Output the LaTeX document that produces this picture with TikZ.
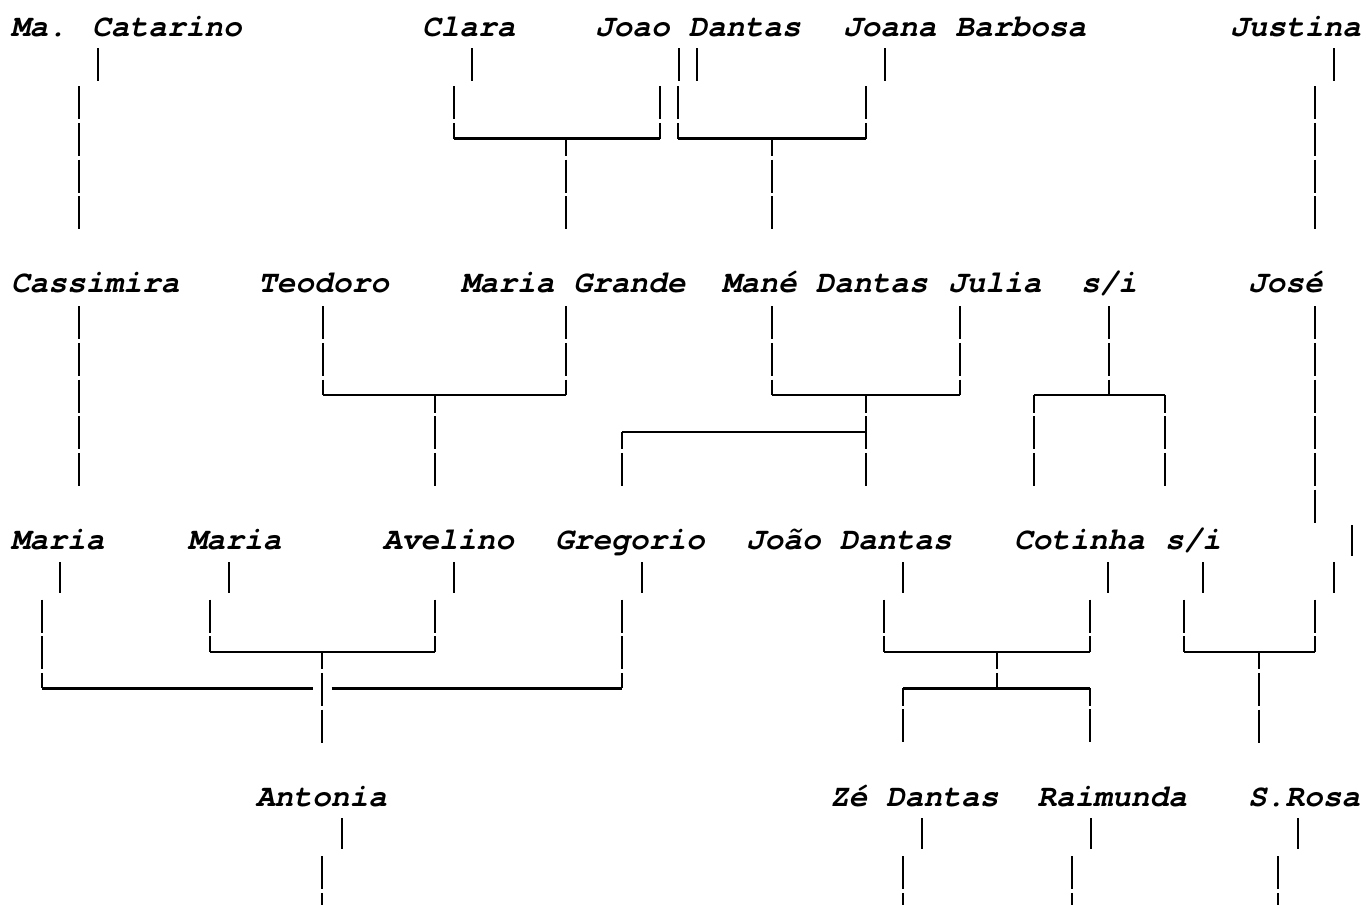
\documentclass[tikz,border=0pt]{standalone}
\usepackage{fontspec}
\setmainfont{TeX Gyre Cursor}
\begin{document}
\begin{tikzpicture}
[x=0.5pt, y=-0.5pt,
 person/.style={anchor=base west, inner sep=0pt, outer sep=0pt, font=\fontsize{15.6pt}{18pt}\selectfont\bfseries\itshape},
 stub/.style={line width=1pt},
 vbar/.style={line width=1pt, dash pattern=on 16.5pt off 1.83pt},
 vstem/.style={vbar, dash phase=7.75pt},
 hbar/.style={line width=1.2pt}]
\useasboundingbox (0,0) rectangle (1366,905);

% first generation
\node[person] (catarino) at (11,36) {Ma. Catarino};
\node[person] (clara) at (422,36) {Clara};
\node[person] (joao) at (595,36) {Joao Dantas};
\node[person] (joana) at (843,36) {Joana Barbosa};
\node[person] (justina) at (1230,36) {Justina};
\draw[stub] (98.3,48) -- (98.3,81);
\draw[stub] (471.9,48) -- (471.9,81);
\draw[stub] (678.6,48) -- (678.6,81);
\draw[stub] (696.9,48) -- (696.9,81);
\draw[stub] (885,48) -- (885,81);
\draw[stub] (1334,48) -- (1334,81);
\coordinate (clara-joao) at (566,138.5);
\coordinate (joao-joana) at (772,138.5);
\draw[vbar] (79,86.3) -- (79,229.3);
\draw[vbar] (453.6,86.3) -- (453.6,138.5);
\draw[vbar] (659.6,86.3) -- (659.6,138.5);
\draw[hbar] (453.6,138.5) -- (659.6,138.5);
\draw[vstem] (clara-joao) -- (566,229.3);
\draw[vbar] (678.4,86.3) -- (678.4,138.5);
\draw[vbar] (865.7,86.3) -- (865.7,138.5);
\draw[hbar] (678.4,138.5) -- (865.7,138.5);
\draw[vstem] (joao-joana) -- (772,229.3);
\draw[vbar] (1315.2,86.3) -- (1315.2,229.3);

% second generation
\node[person] (cassimira) at (11,292.7) {Cassimira};
\node[person] (teodoro) at (258,292.7) {Teodoro};
\node[person] (mariag) at (461,292.7) {Maria Grande};
\node[person] (mane) at (722,292.7) {Mané Dantas};
\node[person] (julia) at (948,292.7) {Julia};
\node[person] (sia) at (1081,292.7) {s/i};
\node[person] (jose) at (1248,292.7) {José};
\coordinate (teodoro-maria) at (434.9,395.1);
\coordinate (mane-julia) at (865.7,395.1);
\coordinate (sia-kids) at (1109,395.1);
\draw[vbar] (79,306.3) -- (79,485.9);
\draw[vbar] (322.5,306.3) -- (322.5,395.1);
\draw[vbar] (566,306.3) -- (566,395.1);
\draw[hbar] (322.5,395.1) -- (566,395.1);
\draw[vstem] (teodoro-maria) -- (434.9,485.9);
\draw[vbar] (772,306.3) -- (772,395.1);
\draw[vbar] (959.6,306.3) -- (959.6,395.1);
\draw[hbar] (772,395.1) -- (959.6,395.1);
\draw[vstem] (mane-julia) -- (865.7,485.9);
\draw[hbar] (622.2,431.8) -- (865.7,431.8);
\draw[vstem] (622.2,431.8) -- (622.2,485.9);
\draw[vbar] (1109,306.3) -- (sia-kids);
\draw[hbar] (1034.2,395.1) -- (1165.4,395.1);
\draw[vstem] (1034.2,395.1) -- (1034.2,485.9);
\draw[vstem] (1165.4,395.1) -- (1165.4,485.9);
\draw[vbar] (1315.2,306.3) -- (1315.2,522.6);

% third generation
\node[person] (mariaa) at (11,549.3) {Maria};
\node[person] (mariab) at (188,549.3) {Maria};
\node[person] (avelino) at (383,549.3) {Avelino};
\node[person] (gregorio) at (555,549.3) {Gregorio};
\node[person] (joaod) at (746,549.3) {João Dantas};
\node[person] (cotinha) at (1014,549.3) {Cotinha};
\node[person] (sib) at (1165,549.3) {s/i};
\draw[stub] (1352,525) -- (1352,556);
\draw[stub] (60.3,562) -- (60.3,593);
\draw[stub] (229,562) -- (229,593);
\draw[stub] (454,562) -- (454,593);
\draw[stub] (641.5,562) -- (641.5,593);
\draw[stub] (903,562) -- (903,593);
\draw[stub] (1108,562) -- (1108,593);
\draw[stub] (1202.7,562) -- (1202.7,593);
\draw[stub] (1334,562) -- (1334,593);
\coordinate (maria-avelino) at (322.3,651.7);
\coordinate (joao-cotinha) at (996.7,651.7);
\coordinate (sib-jose) at (1259.2,651.7);
\draw[vbar] (41.5,599.6) -- (41.5,688.3);
\draw[vbar] (622.2,599.6) -- (622.2,688.3);
\draw[hbar] (41.5,688.3) -- (312.9,688.3);
\draw[hbar] (331.7,688.3) -- (622.2,688.3);
\draw[vbar] (210.1,599.6) -- (210.1,651.7);
\draw[vbar] (434.9,599.6) -- (434.9,651.7);
\draw[hbar] (210.1,651.7) -- (434.9,651.7);
\draw[vstem] (maria-avelino) -- (322.3,742.6);
\draw[vbar] (884.4,599.6) -- (884.4,651.7);
\draw[vbar] (1090.4,599.6) -- (1090.4,651.7);
\draw[hbar] (884.4,651.7) -- (1090.4,651.7);
\draw[vstem] (joao-cotinha) -- (996.7,688.3);
\draw[hbar] (903.1,688.3) -- (1090.4,688.3);
\draw[vstem] (903.1,688.3) -- (903.1,742.6);
\draw[vstem] (1090.4,688.3) -- (1090.4,742.6);
\draw[vbar] (1184.3,599.6) -- (1184.3,651.7);
\draw[vbar] (1315.2,599.6) -- (1315.2,651.7);
\draw[hbar] (1184.3,651.7) -- (1315.2,651.7);
\draw[vstem] (sib-jose) -- (1259.2,742.6);

% fourth generation
\node[person] (antonia) at (256,806) {Antonia};
\node[person] (ze) at (830,806) {Zé Dantas};
\node[person] (raimunda) at (1037.3,806) {Raimunda};
\node[person] (srosa) at (1248,806) {S.Rosa};
\draw[stub] (341.5,818) -- (341.5,849);
\draw[stub] (921.7,818) -- (921.7,849);
\draw[stub] (1091,818) -- (1091,849);
\draw[stub] (1297.6,818) -- (1297.6,849);
\draw[vbar] (322.3,856.2) -- (322.3,905);
\draw[vbar] (903.1,856.2) -- (903.1,905);
\draw[vbar] (1071.7,856.2) -- (1071.7,905);
\draw[vbar] (1278.3,856.2) -- (1278.3,905);
\end{tikzpicture}
\end{document}
